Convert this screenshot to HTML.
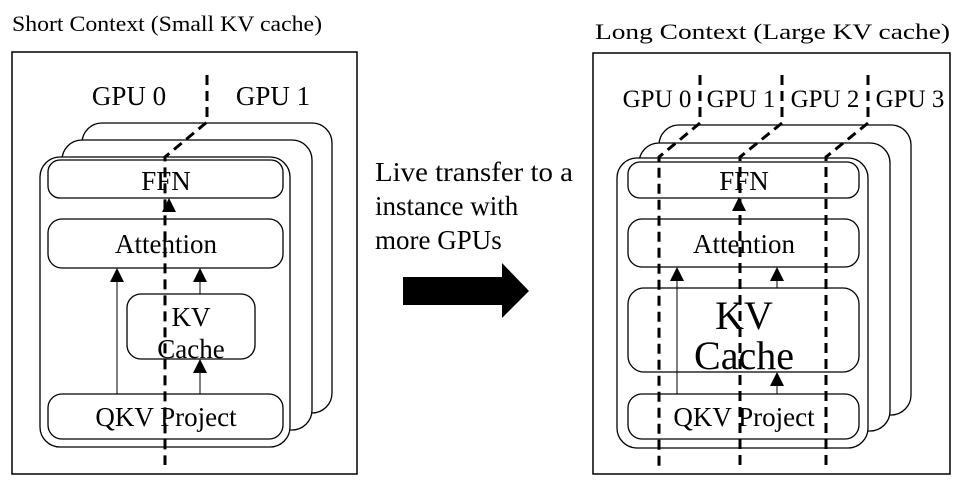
<!DOCTYPE html>
<html><head><meta charset="utf-8"><style>html,body{margin:0;padding:0;background:#fff;width:969px;height:490px;overflow:hidden}
svg text{font-family:"Liberation Serif","Times New Roman",serif}</style></head>
<body>
<svg width="969" height="490" viewBox="0 0 969 490" xmlns="http://www.w3.org/2000/svg">
<g fill="#000">
<text x="12" y="31" font-size="22" textLength="310" lengthAdjust="spacingAndGlyphs">Short Context (Small KV cache)</text>
<text x="595" y="39" font-size="22" textLength="355" lengthAdjust="spacingAndGlyphs">Long Context (Large KV cache)</text>
<text x="375" y="181" font-size="27" textLength="198" lengthAdjust="spacingAndGlyphs">Live transfer to a</text>
<text x="375" y="215" font-size="27">instance with</text>
<text x="375" y="249" font-size="27">more GPUs</text>
<polygon points="403,277 502,277 502,263 529,291 502,318 502,305 403,305"/>
</g>
<g fill="#fff" stroke="#000">
<rect x="12" y="52" width="345" height="422" stroke-width="1.5"/>
<rect x="82" y="123" width="250" height="290" rx="20" stroke-width="1.3"/>
<rect x="62" y="140" width="250" height="290" rx="20" stroke-width="1.3"/>
<rect x="40" y="157" width="250" height="290" rx="20" stroke-width="1.3"/>
<rect x="48" y="160" width="235" height="38" rx="12" stroke-width="1.3"/>
<rect x="48" y="219" width="235" height="49" rx="14" stroke-width="1.3"/>
<rect x="127" y="294" width="128" height="65" rx="14" stroke-width="1.3"/>
<rect x="48" y="394" width="235" height="45" rx="14" stroke-width="1.3"/>

<rect x="593" y="53" width="357" height="421" stroke-width="1.5"/>
<rect x="659" y="125" width="252" height="290" rx="20" stroke-width="1.3"/>
<rect x="639" y="143" width="251" height="288" rx="20" stroke-width="1.3"/>
<rect x="617" y="158" width="251" height="290" rx="20" stroke-width="1.3"/>
<rect x="628" y="162" width="231" height="36" rx="12" stroke-width="1.3"/>
<rect x="628" y="219" width="231" height="48" rx="14" stroke-width="1.3"/>
<rect x="628" y="288" width="231" height="84" rx="16" stroke-width="1.3"/>
<rect x="628" y="394" width="231" height="45" rx="14" stroke-width="1.3"/>
</g>
<g fill="#000" font-size="27" text-anchor="middle">
<text x="129" y="105">GPU 0</text><text x="273" y="105">GPU 1</text>
<text x="166" y="190">FFN</text><text x="166" y="253">Attention</text>
<text x="191" y="326">KV</text><text x="191" y="358">Cache</text>
<text x="166" y="426">QKV Project</text>
<text x="657" y="107" font-size="25">GPU 0</text><text x="741" y="107" font-size="25">GPU 1</text>
<text x="825" y="107" font-size="25">GPU 2</text><text x="910" y="107" font-size="25">GPU 3</text>
<text x="744" y="190">FFN</text><text x="744" y="253">Attention</text>
<text x="744" y="329" font-size="40">KV</text><text x="744" y="369" font-size="40">Cache</text>
<text x="744" y="426">QKV Project</text>
</g>
<g stroke="#000" stroke-width="1">
<line x1="117" y1="394" x2="117" y2="282"/><line x1="200" y1="294" x2="200" y2="282"/>
<line x1="200" y1="394" x2="200" y2="373"/>
<line x1="677" y1="394" x2="677" y2="281"/><line x1="777" y1="288" x2="777" y2="281"/>
<line x1="777" y1="394" x2="777" y2="386"/>
</g>
<g fill="#000">
<polygon points="169,198 162,212 176,212"/>
<polygon points="117,268 110,282 124,282"/><polygon points="200,268 193,282 207,282"/>
<polygon points="200,359 193,373 207,373"/>
<polygon points="739,197 732,211 746,211"/>
<polygon points="677,267 670,281 684,281"/><polygon points="777,267 770,281 784,281"/>
<polygon points="777,372 770,386 784,386"/>
</g>
<g stroke="#000" stroke-width="3" fill="none" stroke-dasharray="10,6">
<polyline points="207,75 207,122 165,157 165,465"/>
<polyline points="700,75 700,123 659,157 659,470"/>
<polyline points="782,75 782,123 740,157 740,470"/>
<polyline points="868,75 868,123 826,157 826,470"/>
</g>
</svg>
</body></html>
